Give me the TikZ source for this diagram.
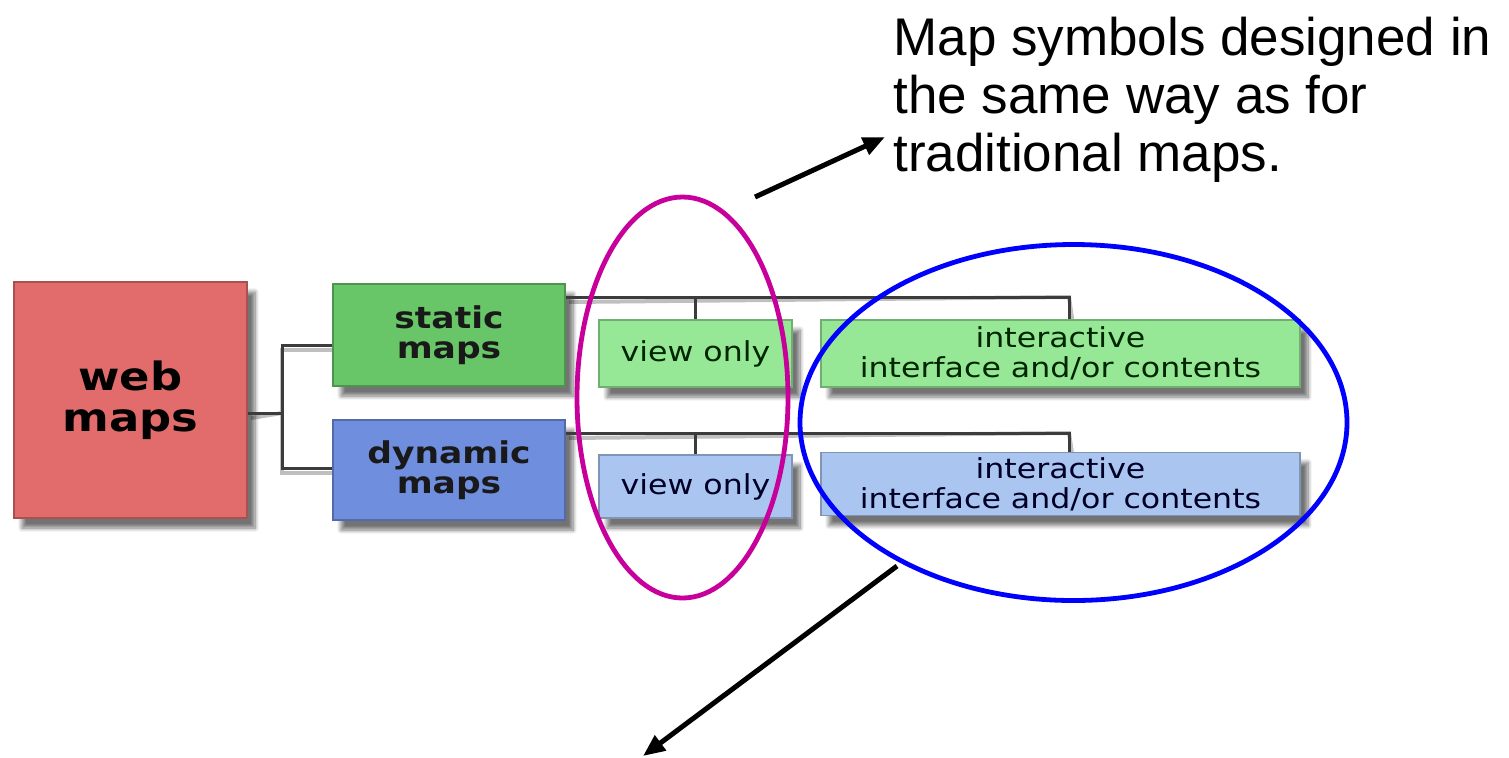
\documentclass[tikz,border=0pt]{standalone}
\usepackage{fontspec}
\setmainfont{Liberation Sans}
\newfontfamily\boxfont[FakeStretch=1.15]{DejaVu Sans}
\usetikzlibrary{arrows.meta,shadows.blur}
\definecolor{webred}{RGB}{226,108,108}
\definecolor{statgreen}{RGB}{104,198,104}
\definecolor{dynblue}{RGB}{112,142,222}
\definecolor{lightgreen}{RGB}{150,232,150}
\definecolor{lightblue}{RGB}{170,198,240}
\definecolor{ringmag}{RGB}{200,0,155}
\definecolor{ringblue}{RGB}{0,0,255}
\definecolor{connc}{RGB}{60,60,60}
\begin{document}
\begin{tikzpicture}[x=0.5pt,y=-0.5pt,
  box/.style={draw=#1!75!black, line width=0.6pt, fill=#1, inner sep=0pt,
    blur shadow={shadow xshift=4pt,shadow yshift=-5pt,shadow opacity=55,shadow blur steps=8}},
  bigtxt/.style={font=\boxfont\bfseries\fontsize{19.5}{20.5}\selectfont, text=black, align=center},
  midtxt/.style={font=\boxfont\bfseries\fontsize{15}{15}\selectfont, text=black!90, align=center},
  smalltxt/.style={font=\boxfont\fontsize{13.75}{15}\selectfont, align=center},
  conn/.style={draw=connc, line width=1.5pt},
  connshadow/.style={draw=black!25, line width=2pt, xshift=2pt, yshift=-2.5pt},
  ring/.style={line width=2.4pt},
  arr/.style={draw=black, line width=2.5pt, -{Triangle[length=11pt,width=9pt]}}]
\useasboundingbox (0,0) rectangle (1509,757);

% connectors
\coordinate (j) at (282,413);
\coordinate (sb) at (1069,297);
\coordinate (db) at (1069,433);

% connector shadows
\draw[connshadow] (247,413) -- (j);
\draw[connshadow] (333,345) -| (j) |- (333,468);
\draw[connshadow] (565,297) -- (sb) -- (1069,320);
\draw[connshadow] (565,433) -- (db) -- (1069,455);

% boxes
\node[box=webred, minimum width=116.5pt, minimum height=118pt, bigtxt] (web) at (130.5,400) {web\\maps};
\node[box=statgreen, minimum width=116pt, minimum height=51pt, midtxt] (static) at (449,335) {static\\maps};
\node[box=dynblue, minimum width=116pt, minimum height=50pt, midtxt] (dynamic) at (449,470) {dynamic\\maps};
\node[box=lightgreen, minimum width=96.5pt, minimum height=33.5pt, smalltxt, text=black!85!green] (vo1) at (695.5,353.5) {view only};
\node[box=lightgreen, minimum width=239.5pt, minimum height=33.5pt, smalltxt, text=black!85!green] (ia1) at (1060.5,353.5) {interactive\\interface and/or contents};
\node[box=lightblue, minimum width=96.5pt, minimum height=31.5pt, smalltxt, text=black!85!blue] (vo2) at (695.5,486.5) {view only};
\node[box=lightblue, minimum width=239.5pt, minimum height=31.5pt, smalltxt, text=black!85!blue] (ia2) at (1060.5,484) {interactive\\interface and/or contents};

\draw[conn] (web.east |- j) -- (j);
\draw[conn] (static.west |- 0,345) -| (j) |- (dynamic.west |- 0,468);
\draw[conn] (static.east |- sb) -- (sb) -- (ia1.north -| sb);
\draw[conn] (vo1.north |- sb) -- (vo1.north);
\draw[conn] (dynamic.east |- db) -- (db) -- (ia2.north -| db);
\draw[conn] (vo2.north |- db) -- (vo2.north);

% rings
\draw[ring, ringmag] (682.5,397.5) ellipse [x radius=52.75pt, y radius=100.25pt];
\draw[ring, ringblue] (1073.5,422.5) ellipse [x radius=136.75pt, y radius=89pt];

% arrows
\coordinate (a1s) at (755,197);
\coordinate (a1e) at (885,137);
\coordinate (a2s) at (897,566);
\coordinate (a2e) at (643,756);
\draw[arr] (a1s) -- (a1e);
\draw[arr] (a2s) -- (a2e);

% note
\node[anchor=north west, inner sep=0pt, align=left, font=\fontsize{26.5}{29}\selectfont] (note) at (893,17)
  {Map symbols designed in\\the same way as for\\traditional maps.};
\end{tikzpicture}
\end{document}
